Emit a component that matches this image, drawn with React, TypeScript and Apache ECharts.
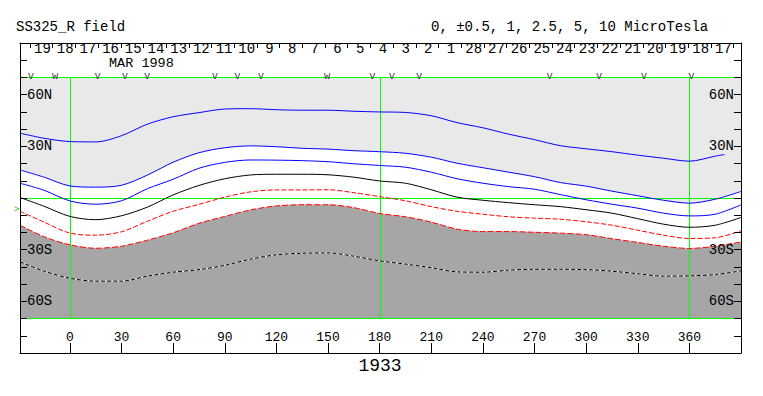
import React, { useEffect, useRef } from "react";
import * as echarts from "echarts";

// Carrington longitude samples (deg)
const LON = [-29, -15, 0, 15, 30, 45, 60, 75, 90, 105, 120, 135, 150, 165, 180, 195, 210, 225, 240, 255, 270, 285, 300, 315, 330, 345, 360, 375, 390];
// outer blue contour stops short of the right edge
const BLUE_OUTER_LON = [-29, -15, 0, 15, 30, 45, 60, 75, 90, 105, 120, 135, 150, 165, 180, 195, 210, 225, 240, 255, 270, 285, 300, 315, 330, 345, 360, 375, 380.5];
const BLUE_OUTER = [37.4, 34.4, 32.5, 32.3, 35.9, 42.6, 46.9, 49.3, 51.4, 51.6, 51.0, 50.7, 50.7, 50.1, 49.7, 49.4, 47.5, 43.5, 40.5, 36.8, 33.6, 30.1, 28.3, 26.6, 24.6, 22.8, 21.1, 24.0, 25.0];
const BLUE_MID = [16.0, 11.8, 6.7, 6.0, 7.1, 13.0, 20.5, 26.0, 28.9, 30.0, 29.5, 28.6, 28.1, 27.2, 26.6, 25.7, 23.4, 19.9, 17.3, 14.7, 12.1, 8.7, 6.6, 3.7, 1.0, -1.6, -3.3, -1.0, 3.5];
const BLUE_INNER = [8.3, 4.2, -2.0, -3.9, -1.9, 5.1, 10.6, 17.0, 20.4, 21.8, 21.7, 21.4, 20.8, 19.6, 18.6, 17.6, 14.7, 10.9, 8.3, 6.3, 4.8, 1.7, -1.3, -3.9, -6.2, -9.1, -10.7, -9.7, -4.3];
const NEUTRAL = [0, -5.1, -11.0, -12.9, -10.6, -5.6, 1.5, 7.0, 10.9, 13.1, 13.5, 13.5, 13.2, 11.8, 9.6, 8.3, 4.5, 0.2, -1.6, -3.0, -4.2, -5.3, -7.1, -9.1, -12.3, -15.5, -17.3, -16.1, -11.6];
const RED_INNER = [-8.0, -14.3, -20.7, -21.9, -19.9, -13.8, -8.0, -4.0, 0.2, 3.3, 4.4, 4.4, 4.5, 2.8, 0.5, -1.9, -5.3, -8.0, -9.7, -11.2, -12.0, -12.6, -14.1, -16.1, -19.0, -21.9, -23.8, -23.4, -19.4];
const RED_OUTER = [-16.1, -22.8, -27.5, -29.5, -28.3, -24.8, -20.5, -15.0, -11.0, -7.2, -4.9, -4.2, -4.2, -5.9, -9.3, -11.2, -14.3, -18.4, -19.8, -19.8, -20.2, -20.7, -21.6, -23.9, -26.1, -28.3, -29.6, -28.3, -25.8];
const DOTTED = [-37.4, -42.8, -46.9, -48.6, -48.6, -45.7, -43.4, -41.9, -39.4, -35.8, -33.3, -32.4, -32.2, -34.1, -36.8, -38.7, -40.8, -43.2, -43.4, -42.2, -41.7, -41.7, -41.9, -42.8, -44.3, -45.7, -45.5, -44.8, -42.6];

// green guide lines
const GUIDE_LON = [0, 180, 360];
const GUIDE_LAT = [70, 0, -70];
const PLOT_LON_RANGE = [-29, 390];
const PLOT_LAT_RANGE = [-70, 70];

// axis ticks / labels
const LON_TICKS = [0, 30, 60, 90, 120, 150, 180, 210, 240, 270, 300, 330, 360];
const LAT_LABELS = [60, 30, -30, -60];
const DAY_LABELS = ["19", "18", "17", "16", "15", "14", "13", "12", "11", "10", "9", "8", "7", "6", "5", "4", "3", "2", "1", "28", "27", "26", "25", "24", "23", "22", "21", "20", "19", "18", "17"];
const FIRST_DAY_TICK_LON = -23.2;
const DEG_PER_DAY = 13.19;

// observation markers along the top
const MARKER_LON = [-22.7, -8.5, 16.1, 31.9, 44.9, 84.2, 97.4, 111.0, 149.5, 175.8, 187.2, 202.9, 278.8, 307.5, 333.6, 361.2];
const MARKER_TYPE = ["v", "w", "v", "v", "v", "v", "v", "v", "w", "v", "v", "v", "v", "v", "v", "v"];

const FONT = "Liberation Mono";

const zip = (xs: number[], ys: number[]) => ys.map((y, i) => [xs[i], y]);

export default function App() {
  const ref = useRef<HTMLDivElement>(null);
  useEffect(() => {
    if (!ref.current) return;
    const chart = echarts.init(ref.current, null, { renderer: "svg" });
    const dayTicks = Array.from({ length: DAY_LABELS.length + 1 }, (_, k) => FIRST_DAY_TICK_LON + k * DEG_PER_DAY);
    const dayLabelLons = DAY_LABELS.map((_, k) => FIRST_DAY_TICK_LON + (k + 0.55) * DEG_PER_DAY);
    const dayFmt = (v: number) => {
      let best = 0;
      let bd = Infinity;
      dayLabelLons.forEach((l, i) => {
        const d = Math.abs(l - v);
        if (d < bd) { bd = d; best = i; }
      });
      return DAY_LABELS[best];
    };
    const latFmt = (v: number) => (v > 0 ? `${v}N` : `${-v}S`);
    const frameAxisBase = {
      gridIndex: 0,
      z: 30,
      axisLine: { show: true, onZero: false, lineStyle: { color: "#000", width: 1 } },
      splitLine: { show: false },
    };
    const plotLine = (name: string, data: number[][], color: string, type: any, z = 3) => ({
      name,
      type: "line",
      xAxisIndex: 2,
      yAxisIndex: 2,
      data,
      showSymbol: false,
      symbol: "none",
      smooth: 0.3,
      silent: true,
      z,
      lineStyle: { color, width: 1, type, opacity: 1 },
    });
    const texts: any[] = [
      { type: "text", x: 16, y: 27, style: { text: "SS325_R field", font: `14px "${FONT}"`, fill: "#000", verticalAlign: "middle" } },
      { type: "text", x: 431, y: 27, style: { text: "0, \u00b10.5, 1, 2.5, 5, 10 MicroTesla", font: `14px "${FONT}"`, fill: "#000", verticalAlign: "middle" } },
      { type: "text", x: 109, y: 63.5, style: { text: "MAR 1998", font: `13.5px "${FONT}"`, lineHeight: 10, fill: "#000", verticalAlign: "middle" } },
      { type: "text", x: 380, y: 366, style: { text: "1933", font: `18px "${FONT}"`, fill: "#000", align: "center", verticalAlign: "middle" } },
      { type: "text", x: 14, y: 210, style: { text: ">", font: `9px "${FONT}"`, fill: "#00cc00", verticalAlign: "middle" } },
    ];

    chart.setOption({
      animation: false,
      grid: [
        { left: 20, width: 721, top: 43, height: 310, show: false },
        { left: 20, width: 721, top: 77, height: 241, show: false },
      ],
      xAxis: [
        {
          ...frameAxisBase,
          type: "value",
          position: "bottom",
          min: PLOT_LON_RANGE[0],
          max: PLOT_LON_RANGE[1],
          axisTick: { show: true, inside: true, length: 10, customValues: LON_TICKS, lineStyle: { color: "#000" } },
          axisLabel: { show: true, inside: true, margin: 9, customValues: LON_TICKS, color: "#000", fontFamily: FONT, fontSize: 13 },
        },
        {
          ...frameAxisBase,
          type: "value",
          position: "top",
          min: PLOT_LON_RANGE[0],
          max: PLOT_LON_RANGE[1],
          axisTick: { show: true, inside: true, length: 5, customValues: dayTicks, lineStyle: { color: "#000" } },
          axisLabel: { show: true, inside: true, margin: 0, lineHeight: 11, customValues: dayLabelLons, formatter: dayFmt, color: "#000", fontFamily: FONT, fontSize: 14 },
        },
        { type: "value", gridIndex: 1, min: PLOT_LON_RANGE[0], max: PLOT_LON_RANGE[1], show: false },
      ],
      yAxis: [
        {
          ...frameAxisBase,
          type: "value",
          position: "left",
          min: -90,
          max: 90,
          interval: 10,
          axisTick: { show: true, inside: true, length: 7, lineStyle: { color: "#000" } },
          axisLabel: { show: true, inside: true, margin: 7, customValues: LAT_LABELS, formatter: latFmt, color: "#000", fontFamily: FONT, fontSize: 14 },
        },
        {
          ...frameAxisBase,
          type: "value",
          position: "right",
          min: -90,
          max: 90,
          interval: 10,
          axisTick: { show: true, inside: true, length: 7, lineStyle: { color: "#000" } },
          axisLabel: { show: true, inside: true, margin: 7, customValues: LAT_LABELS, formatter: latFmt, color: "#000", fontFamily: FONT, fontSize: 14 },
        },
        { type: "value", gridIndex: 1, min: PLOT_LAT_RANGE[0], max: PLOT_LAT_RANGE[1], show: false },
      ],
      series: [
        {
          type: "line",
          xAxisIndex: 2,
          yAxisIndex: 2,
          data: zip(LON, BLUE_MID),
          showSymbol: false,
          symbol: "none",
          smooth: 0.3,
          silent: true,
          z: 1,
          lineStyle: { width: 0, opacity: 0 },
          areaStyle: { color: "#e9e9e9", opacity: 1, origin: "end" },
        },
        {
          type: "line",
          xAxisIndex: 2,
          yAxisIndex: 2,
          data: zip(LON, RED_OUTER),
          showSymbol: false,
          symbol: "none",
          smooth: 0.3,
          silent: true,
          z: 1,
          lineStyle: { width: 0, opacity: 0 },
          areaStyle: { color: "#a6a6a6", opacity: 1, origin: "start" },
        },
        plotLine("+5", zip(BLUE_OUTER_LON, BLUE_OUTER), "#0000ff", "solid"),
        plotLine("+1", zip(LON, BLUE_MID), "#0000ff", "solid"),
        plotLine("+0.5", zip(LON, BLUE_INNER), "#0000ff", "solid"),
        plotLine("0", zip(LON, NEUTRAL), "#000000", "solid"),
        plotLine("-0.5", zip(LON, RED_INNER), "#ff0000", [5, 2]),
        plotLine("-1", zip(LON, RED_OUTER), "#ff0000", [6, 2]),
        plotLine("-5w", zip(LON, DOTTED), "#ffffff", "solid"),
        plotLine("-5", zip(LON, DOTTED), "#000000", [4, 2], 4),
        {
          type: "scatter",
          xAxisIndex: 0,
          yAxisIndex: 0,
          data: MARKER_LON.map((l, i) => ({ value: [l, 70.8], name: MARKER_TYPE[i] })),
          symbolSize: 1,
          itemStyle: { color: "rgba(0,0,0,0)" },
          silent: true,
          z: 6,
          label: {
            show: true,
            position: "inside",
            formatter: (p: any) => p.name,
            color: "#000",
            fontFamily: FONT,
            fontSize: 10.5,
            lineHeight: 7,
          },
        },
      ],
      graphic: texts,
    });

    // crisp green guide lines placed through the plot grid's own scale
    const px = (lon: number, lat: number) => chart.convertToPixel({ gridIndex: 1 }, [lon, lat]) as number[];
    const snap = (v: number) => Math.round(v) + 0.5;
    const guideStyle = { stroke: "#00ff00", lineWidth: 1, opacity: 1 };
    const guides: any[] = [
      ...GUIDE_LON.map((l) => {
        const a = px(l, PLOT_LAT_RANGE[0]);
        const b = px(l, PLOT_LAT_RANGE[1]);
        const x = snap(a[0]);
        return { type: "line", silent: true, z: 2, shape: { x1: x, y1: b[1], x2: x, y2: a[1] }, style: guideStyle };
      }),
      ...GUIDE_LAT.map((lat) => {
        const a = px(PLOT_LON_RANGE[0], lat);
        const b = px(PLOT_LON_RANGE[1], lat);
        const y = snap(a[1]);
        return { type: "line", silent: true, z: 2, shape: { x1: a[0], y1: y, x2: b[0], y2: y }, style: guideStyle };
      }),
    ];
    chart.setOption({ graphic: [...texts, ...guides] });
    return () => chart.dispose();
  }, []);
  return <div ref={ref} style={{ position: "absolute", left: 0, top: 0, width: 763, height: 396 }} />;
}
